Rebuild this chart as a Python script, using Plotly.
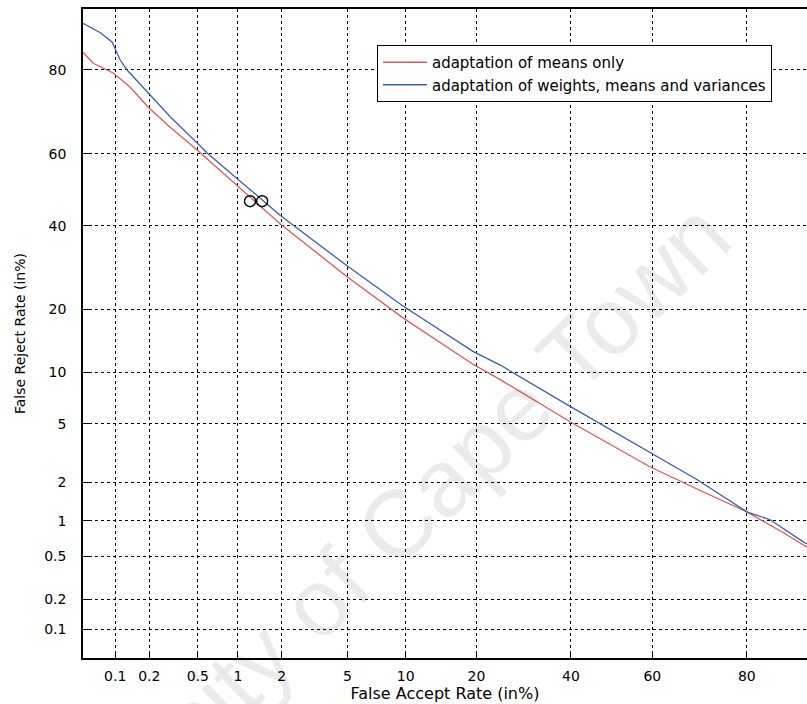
from statistics import NormalDist

import plotly.graph_objects as go

# DET curve data (percent)
far_means = [0.05, 0.0625, 0.096, 0.136, 0.196, 0.30, 0.494, 1.16, 1.96, 5.0,
             9.7, 19.4, 24.4, 39.8, 59.4, 71.5, 80.0, 85.7, 88.8]
frr_means = [83.3, 81.3, 79.4, 76.5, 71.9, 67.0, 61.0, 48.6, 40.5, 27.0,
             18.4, 11.0, 9.1, 5.15, 2.58, 1.69, 1.18, 0.80, 0.60]

far_full = [0.05, 0.073, 0.094, 0.10, 0.111, 0.128, 0.192, 0.30, 0.494, 0.59,
            1.16, 1.96, 5.0, 9.7, 19.4, 24.4, 39.8, 59.4, 70.3, 80.0, 83.8,
            88.3, 88.8]
frr_full = [87.9, 86.5, 85.0, 84.0, 81.9, 80.0, 75.4, 69.6, 62.9, 60.2,
            50.8, 42.8, 29.6, 20.7, 12.8, 10.9, 6.4, 3.23, 2.08, 1.18, 1.02,
            0.67, 0.64]

# operating points marked with circles
mark_far = [1.22, 1.48]
mark_frr = [46.8, 46.8]

tick_pct = [0.1, 0.2, 0.5, 1, 2, 5, 10, 20, 40, 60, 80]
tick_text = ["0.1", "0.2", "0.5", "1", "2", "5", "10", "20", "40", "60", "80"]

x_lim_pct = [0.05, 88.8]
y_lim_pct = [0.05, 89.8]

nd = NormalDist()


def probit(values):
    return [nd.inv_cdf(v / 100.0) for v in values]


fig = go.Figure()

fig.add_trace(go.Scatter(
    x=probit(far_means), y=probit(frr_means), mode="lines",
    name="adaptation of means only",
    line=dict(color="#dd5a5a", width=1.3),
))
fig.add_trace(go.Scatter(
    x=probit(far_full), y=probit(frr_full), mode="lines",
    name="adaptation of weights, means and variances",
    line=dict(color="#3d5fae", width=1.3),
))
fig.add_trace(go.Scatter(
    x=probit(mark_far), y=probit(mark_frr), mode="markers",
    showlegend=False,
    marker=dict(symbol="circle-open", size=11, color="black",
                line=dict(width=1.4, color="black")),
))

axis_common = dict(
    tickvals=probit(tick_pct), ticktext=tick_text,
    showgrid=True, gridcolor="black", gridwidth=1, griddash="3px,3px",
    zeroline=False, showline=True, linecolor="black", linewidth=1.5,
    ticks="inside", ticklen=6, tickcolor="black", tickwidth=1,
    tickfont=dict(family="DejaVu Sans", size=14, color="black"),
)

fig.update_layout(
    width=807, height=704,
    margin=dict(l=83, r=0, t=9, b=46),
    paper_bgcolor="white", plot_bgcolor="white",
    xaxis=dict(
        **axis_common,
        range=probit(x_lim_pct), mirror=True,
        ticklabelstandoff=4,
        title=dict(text="False Accept Rate (in%)", standoff=5,
                   font=dict(family="DejaVu Sans", size=16, color="black")),
    ),
    yaxis=dict(
        **axis_common,
        range=probit(y_lim_pct), mirror=False,
        ticklabelstandoff=12,
        title=dict(text="False Reject Rate (in%)", standoff=15,
                   font=dict(family="DejaVu Sans", size=14, color="black")),
    ),
    legend=dict(
        x=0.406, y=0.9445, xanchor="left", yanchor="top",
        bgcolor="white", bordercolor="black", borderwidth=1,
        font=dict(family="DejaVu Sans", size=15, color="black"),
        itemwidth=44, tracegroupgap=0,
    ),
    annotations=[dict(
        text="University of Cape Town", xref="paper", yref="paper",
        x=0.362, y=0.128, xanchor="center", yanchor="middle",
        showarrow=False, textangle=-44,
        font=dict(family="Liberation Sans", size=95, color="rgba(0,0,0,0.08)"),
    )],
)

fig.write_html("out.html")
